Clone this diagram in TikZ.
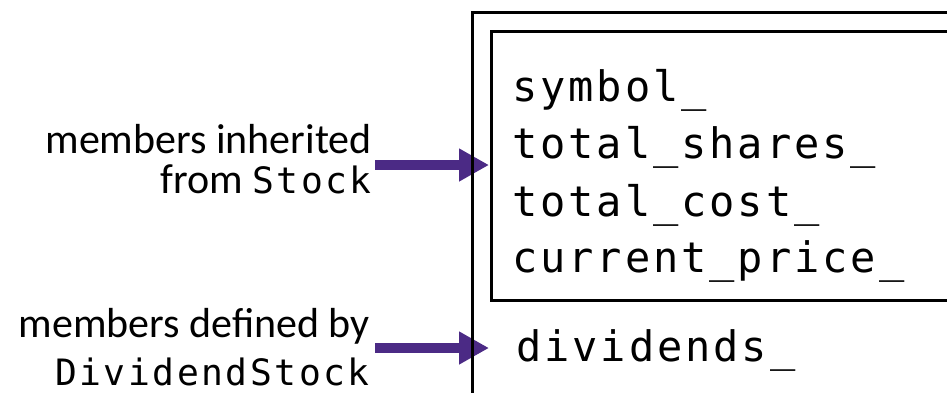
\documentclass[tikz,border=0pt]{standalone}
\usepackage{fontspec}
\setmainfont{Carlito}
\newfontfamily\codefont[LetterSpace=7]{DejaVu Sans Mono}
\usetikzlibrary{arrows.meta}
\definecolor{uwpurple}{HTML}{4B2A85}
\tikzset{
  boxline/.style={draw=black, line width=3pt, inner sep=0pt, anchor=north west},
  codeline/.style={anchor=base west, inner sep=0pt, font=\codefont\fontsize{42}{50}\selectfont},
  lbl/.style={anchor=base east, inner sep=0pt, font=\fontsize{42}{50}\selectfont}
}
\tikzset{ptr/.style={draw=uwpurple, line width=10.5pt, -{Triangle[length=30pt,width=31pt]}}}
\newcommand{\inlinecode}[1]{{\codefont\fontsize{36.3}{42}\selectfont #1}}
\begin{document}
\begin{tikzpicture}[x=1pt,y=-1pt]
\useasboundingbox (0,0) rectangle (947,392);
\clip (0,0) rectangle (947,392);
% labels
\node[lbl] (l1) at (372,153) {members inherited};
\node[lbl] (l2) at (372,193) {from \inlinecode{Stock}};
\node[lbl] (l3) at (370,337) {members defined by};
\node[lbl] (l4) at (370,385) {\inlinecode{DividendStock}};
% arrow endpoints
\coordinate (a1s) at (375,165);
\coordinate (a1e) at (489,165);
\coordinate (a2s) at (375,348);
\coordinate (a2e) at (489,348);
\draw[ptr] (a1s) -- (a1e);
\draw[ptr] (a2s) -- (a2e);
% boxes
\node[boxline, minimum width=520pt, minimum height=420pt] (outer) at (471,11) {};
\node[boxline, minimum width=500pt, minimum height=269pt] (inner) at (490,30) {};
% code text
\node[codeline] (c1) at (512,101.5) {symbol\_};
\node[codeline] (c2) at (512,158.5) {total\_shares\_};
\node[codeline] (c3) at (512,216) {total\_cost\_};
\node[codeline] (c4) at (512,272.5) {current\_price\_};
\node[codeline] (c5) at (516,361) {dividends\_};
\end{tikzpicture}
\end{document}
